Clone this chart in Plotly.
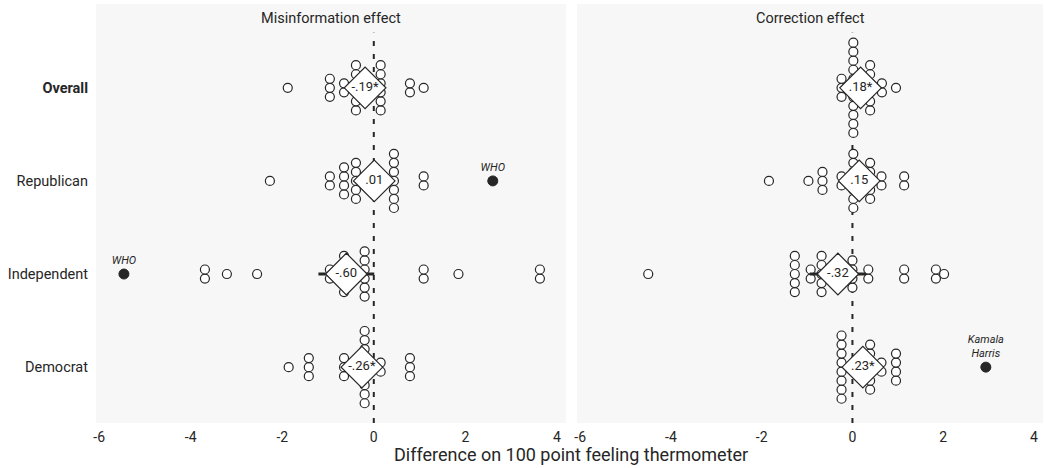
import plotly.graph_objects as go
from plotly.subplots import make_subplots
from collections import Counter

# ---------------- data ----------------
groups = ["Overall", "Republican", "Independent", "Democrat"]
group_ticktext = ["<b>Overall</b>", "Republican", "Independent", "Democrat"]
panel_titles = ["Misinformation effect", "Correction effect"]

# item-level effects (one circle per item)
mis_overall = [-1.88, -0.96, -0.96, -0.96, -0.65, -0.65, -0.39, -0.39, -0.39, -0.39, -0.39, -0.39,
               0.15, 0.15, 0.15, 0.15, 0.15, 0.15, 0.79, 0.79, 1.09]
mis_republican = [-2.27, -0.96, -0.96, -0.65, -0.65, -0.65, -0.65, -0.39, -0.39, -0.39, -0.39, -0.39,
                  0.44, 0.44, 0.44, 0.44, 0.44, 0.44, 0.44, 1.09, 1.09]
mis_independent = [-3.69, -3.69, -3.21, -2.55, -0.96, -0.96, -0.65, -0.65, -0.65, -0.65, -0.65,
                   -0.20, -0.20, -0.20, -0.20, -0.20, -0.20, 1.09, 1.09, 1.85, 3.63, 3.63]
mis_democrat = [-1.86, -1.42, -1.42, -1.42, -0.65, -0.65, -0.65, -0.20, -0.20, -0.20, -0.20, -0.20,
                -0.20, -0.20, -0.20, -0.20, 0.15, 0.15, 0.79, 0.79, 0.79]

cor_overall = [-0.24, -0.24, -0.24, 0.02, 0.02, 0.02, 0.02, 0.02, 0.02, 0.02, 0.02, 0.02, 0.02, 0.02,
               0.39, 0.39, 0.39, 0.39, 0.39, 0.39, 0.65, 0.65, 0.96]
cor_republican = [-1.84, -0.97, -0.66, -0.66, -0.66, -0.24, -0.24, 0.02, 0.02, 0.02, 0.02, 0.02, 0.02,
                  0.02, 0.39, 0.39, 0.39, 0.39, 0.39, 0.64, 0.64, 1.14, 1.14]
cor_independent = [-4.50, -1.27, -1.27, -1.27, -1.27, -1.27, -0.92, -0.92, -0.68, -0.68, -0.68, -0.68,
                   -0.68, 0.00, 0.00, 0.00, 0.00, 0.35, 0.35, 1.14, 1.14, 1.84, 1.84, 2.02]
cor_democrat = [-0.24, -0.24, -0.24, -0.24, -0.24, -0.24, -0.24, -0.24, 0.39, 0.39, 0.39, 0.39, 0.39,
                0.39, 0.64, 0.64, 0.96, 0.96, 0.96, 0.96]

# highlighted outliers
mis_highlight_group = ["Republican", "Independent"]
mis_highlight_x = [2.60, -5.46]
mis_highlight_label = ["WHO", "WHO"]
cor_highlight_group = ["Democrat"]
cor_highlight_x = [2.94]
cor_highlight_label = ["Kamala<br>Harris"]

# group means with 95% CI
mis_mean = [-0.19, 0.01, -0.60, -0.26]
mis_lo = [-0.36, -0.35, -1.21, -0.47]
mis_hi = [-0.02, 0.37, 0.01, -0.05]
mis_label = ["-.19*", ".01", "-.60", "-.26*"]
cor_mean = [0.18, 0.15, -0.32, 0.23]
cor_lo = [0.04, -0.15, -0.94, 0.05]
cor_hi = [0.32, 0.45, 0.30, 0.41]
cor_label = [".18*", ".15", "-.32", ".23*"]

x_ticks = [-6, -4, -2, 0, 2, 4]
x_ticktext = ["-6", "-4", "-2", "0", "2", "4"]

# ---------------- figure ----------------
FONT = "Roboto"
INK = "#262626"
STEP = 0.097  # vertical spacing of stacked circles (y units)

ypos = {g: len(groups) - 1 - i for i, g in enumerate(groups)}

fig = make_subplots(rows=1, cols=2, shared_yaxes=True)

panels = [
    ([mis_overall, mis_republican, mis_independent, mis_democrat],
     mis_highlight_group, mis_highlight_x, mis_highlight_label, mis_mean, mis_lo, mis_hi, mis_label),
    ([cor_overall, cor_republican, cor_independent, cor_democrat],
     cor_highlight_group, cor_highlight_x, cor_highlight_label, cor_mean, cor_lo, cor_hi, cor_label),
]

for col, (series, hg, hx, hl, mean, lo, hi, lab) in enumerate(panels, start=1):
    xs, ys = [], []
    for g, vals in zip(groups, series):
        counts = Counter(vals)
        for v in sorted(counts):
            n = counts[v]
            for k in range(n):
                xs.append(v)
                ys.append(ypos[g] + (k - (n - 1) / 2) * STEP)
    fig.add_trace(go.Scatter(
        x=xs, y=ys, mode="markers",
        marker=dict(size=9, color="white", line=dict(color=INK, width=1.2)),
        showlegend=False, hoverinfo="x"), row=1, col=col)

    fig.add_trace(go.Scatter(
        x=hx, y=[ypos[g] for g in hg], mode="markers+text",
        text=[f"<i>{t}</i>" for t in hl], textposition="top center",
        textfont=dict(family=FONT, size=11, color=INK),
        marker=dict(size=10, color=INK, line=dict(color=INK, width=1)),
        showlegend=False, hoverinfo="x"), row=1, col=col)

    fig.add_trace(go.Scatter(
        x=mean, y=[ypos[g] for g in groups], mode="markers+text",
        text=lab, textposition="middle center",
        textfont=dict(family=FONT, size=13, color=INK),
        marker=dict(symbol="diamond", size=32, color="white", line=dict(color=INK, width=1.2)),
        error_x=dict(type="data", symmetric=False,
                     array=[h - m for h, m in zip(hi, mean)],
                     arrayminus=[m - l for m, l in zip(mean, lo)],
                     thickness=3, width=0, color=INK),
        showlegend=False, hoverinfo="x"), row=1, col=col)

    fig.add_shape(type="line", x0=0, x1=0, y0=-0.6, y1=3.59, xref=f"x{'' if col == 1 else col}",
                  yref="y", layer="below", line=dict(color=INK, width=2, dash="5px,8px"))

W, H = 1044, 468
ml, mr, mt, mb = 96, 1, 4, 45
pw = W - ml - mr
left_end = 470 / pw
right_start = (577 - ml) / pw

xaxis_common = dict(range=[-6.07, 4.2], tickvals=x_ticks, ticktext=x_ticktext, showgrid=False,
                    zeroline=False, showline=False, ticks="", ticklabelstandoff=4,
                    tickfont=dict(family=FONT, size=14, color=INK))
fig.update_layout(
    width=W, height=H,
    margin=dict(l=ml, r=mr, t=mt, b=mb),
    paper_bgcolor="white", plot_bgcolor="#f7f7f7",
    font=dict(family=FONT, color=INK),
    xaxis=dict(domain=[0, left_end], **xaxis_common),
    xaxis2=dict(domain=[right_start, 1], **xaxis_common),
    yaxis=dict(range=[-0.6, 3.9], tickvals=[ypos[g] for g in groups], ticktext=group_ticktext,
               showgrid=False, zeroline=False, showline=False, ticks="", ticklabelstandoff=7,
               tickfont=dict(family=FONT, size=14.5, color=INK)),
    yaxis2=dict(range=[-0.6, 3.9], showticklabels=False, showgrid=False, zeroline=False),
)

ph = H - mt - mb
title_y = 1 - 15 / ph
fig.add_annotation(text=panel_titles[0], x=left_end / 2, y=title_y, xref="paper", yref="paper",
                   showarrow=False, xanchor="center", yanchor="middle",
                   font=dict(family=FONT, size=14.5, color=INK))
fig.add_annotation(text=panel_titles[1], x=(right_start + 1) / 2, y=title_y, xref="paper", yref="paper",
                   showarrow=False, xanchor="center", yanchor="middle",
                   font=dict(family=FONT, size=14.5, color=INK))
fig.add_annotation(text="Difference on 100 point feeling thermometer", x=(571 - ml) / pw, y=0,
                   xref="paper", yref="paper", yanchor="top", yshift=-19, showarrow=False,
                   font=dict(family=FONT, size=18, color=INK))

fig.write_html("out.html", config={"displayModeBar": False},
               post_script="document.body.style.margin='0';")
